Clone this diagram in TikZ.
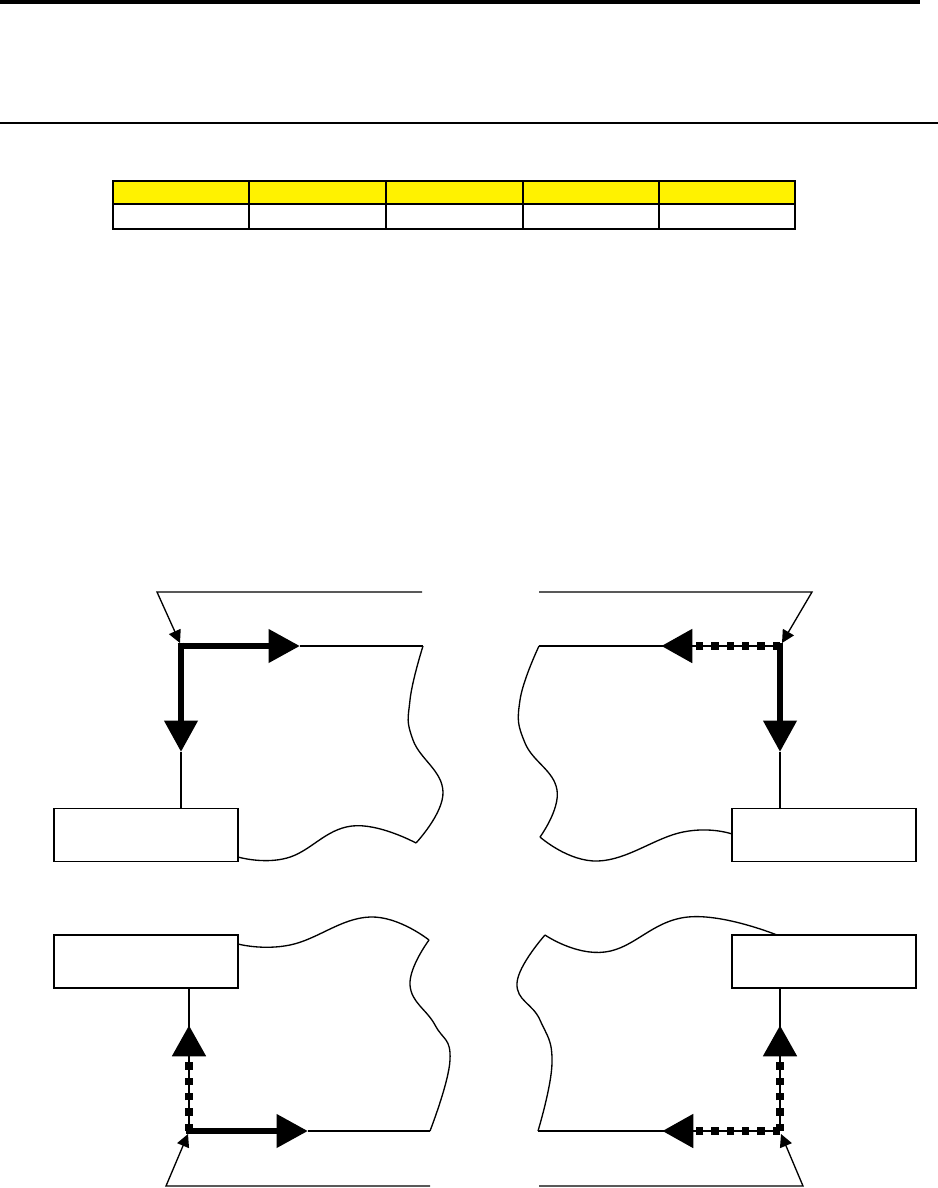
\documentclass[tikz,border=0pt]{standalone}
\usetikzlibrary{arrows.meta}
\begin{document}
\begin{tikzpicture}[x=0.75pt,y=-0.75pt,
  conn/.style={line width=1pt, black},
  bigtip/.style={-{Triangle[length=23.5pt,width=24pt]}},
  smalltip/.style={-{Triangle[length=9.5pt,width=9.5pt]}},
  thickshaft/.style={line width=5.2pt},
  dotshaft/.style={line width=6pt, dash pattern=on 5.5pt off 6pt},
  box/.style={draw, line width=1.1pt, minimum width=138pt, minimum height=40pt, inner sep=0pt, outer sep=0pt},
  cellline/.style={line width=0.8pt},
  wave/.style={conn, smooth, tension=0.75}]
\useasboundingbox (0,0) rectangle (938,1188);

% header rules
\fill[black] (0,0) rectangle (920,4.5);
\draw[line width=1.1pt] (0,123) -- (938,123);

% table
\foreach \a/\b [count=\i] in {113/249,249/386,386/523,523/659,659/795}{
  \draw[cellline, fill=yellow] (\a,181) rectangle (\b,204);
  \draw[cellline, fill=white] (\a,204) rectangle (\b,229);
}

% boxes
\node[box] (bTL) at (146,835) {};
\node[box] (bTR) at (824,835) {};
\node[box] (bBL) at (146,961.5) {};
\node[box] (bBR) at (824,961.5) {};

% ---------- top left ----------
\coordinate (cTL) at (181,646);
\coordinate (hTL) at (300,646);
\coordinate (vTL) at (181,752);
\coordinate (eTL) at (423,646);
\coordinate (fTL) at (157,592);
\coordinate (gTL) at (422,592);
\coordinate (sTL) at (180,643);
\coordinate (kTL) at (416,843);
\coordinate (wTL) at (238,857);
\draw[conn,smalltip] (gTL) -- (fTL) -- (sTL);
\draw[conn] (hTL) -- (eTL);
\draw[conn] (vTL) -- (vTL |- bTL.north);
\draw[thickshaft,bigtip] ([xshift=-2.6pt]cTL) -- (hTL);
\draw[thickshaft,bigtip] ([yshift=2.6pt]cTL) -- (vTL);
\draw[wave] plot coordinates {(eTL) (410,700) (413,740) (443,792) (kTL)};
\draw[wave] plot coordinates {(kTL) (352,826) (287,858) (wTL)};

% ---------- top right ----------
\coordinate (cTR) at (780,646);
\coordinate (hTR) at (661,646);
\coordinate (vTR) at (780,752);
\coordinate (eTR) at (539,646);
\coordinate (fTR) at (812,592);
\coordinate (gTR) at (539,592);
\coordinate (sTR) at (782,643);
\coordinate (kTR) at (540,837);
\coordinate (wTR) at (732,834);
\draw[conn,smalltip] (gTR) -- (fTR) -- (sTR);
\draw[conn] (cTR) -- (eTR);
\draw[conn] (vTR) -- (vTR |- bTR.north);
\draw[dotshaft,bigtip] (cTR) -- (hTR);
\draw[thickshaft,bigtip] ([yshift=2.6pt]cTR) -- (vTR);
\draw[wave] plot coordinates {(eTR) (520,700) (525,743) (557,790) (kTR)};
\draw[wave] plot coordinates {(kTR) (598,861) (683,832) (wTR)};

% ---------- bottom left ----------
\coordinate (cBL) at (189,1131);
\coordinate (hBL) at (308,1131);
\coordinate (vBL) at (189,1025);
\coordinate (eBL) at (430,1131);
\coordinate (fBL) at (166,1186);
\coordinate (gBL) at (430,1186);
\coordinate (sBL) at (188,1134);
\coordinate (kBL) at (429,940);
\coordinate (wBL) at (238,944);
\draw[conn,smalltip] (gBL) -- (fBL) -- (sBL);
\draw[conn] (hBL) -- (eBL);
\draw[conn] (cBL) -- (vBL);
\draw[conn] (vBL) -- (vBL |- bBL.south);
\draw[dotshaft,bigtip] (cBL) -- (vBL);
\draw[thickshaft,bigtip] ([xshift=-2.6pt]cBL) -- (hBL);
\draw[wave] plot coordinates {(wBL) (290,945) (370,917) (kBL)};
\draw[wave] plot coordinates {(kBL) (410,985) (435,1025) (450,1060) (eBL)};

% ---------- bottom right ----------
\coordinate (cBR) at (780,1131);
\coordinate (hBR) at (662,1131);
\coordinate (vBR) at (780,1025);
\coordinate (eBR) at (538,1131);
\coordinate (fBR) at (803,1186);
\coordinate (gBR) at (539,1186);
\coordinate (sBR) at (781,1134);
\coordinate (kBR) at (545,935);
\coordinate (wBR) at (777,935);
\draw[conn,smalltip] (gBR) -- (fBR) -- (sBR);
\draw[conn] (cBR) -- (eBR);
\draw[conn] (cBR) -- (vBR);
\draw[conn] (vBR) -- (vBR |- bBR.south);
\draw[dotshaft,bigtip] (cBR) -- (hBR);
\draw[dotshaft,bigtip] (cBR) -- (vBR);
\draw[wave] plot coordinates {(eBR) (552,1063) (540,1020) (517,983) (kBR)};
\draw[wave] plot coordinates {(kBR) (605,952) (688,917) (wBR)};
\end{tikzpicture}
\end{document}
